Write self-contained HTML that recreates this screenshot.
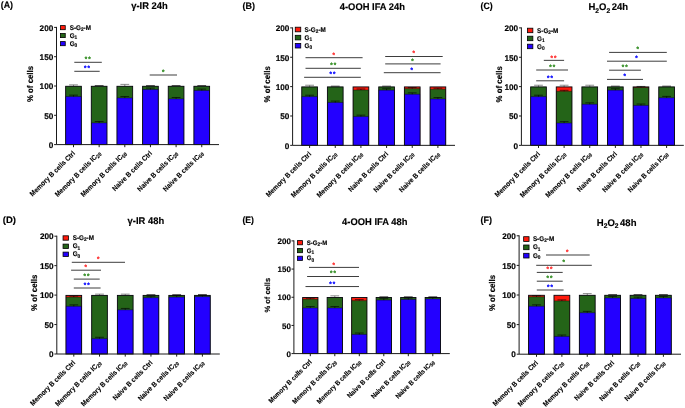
<!DOCTYPE html>
<html lang="en">
<head>
<meta charset="utf-8">
<title>Cell cycle distribution of memory and naive B cells</title>
<style>
html,body{margin:0;padding:0;background:#fff;}
body{width:685px;height:408px;overflow:hidden;}
svg{display:block;}
text{text-rendering:geometricPrecision;font-family:"Liberation Sans",sans-serif;font-weight:bold;fill:#000;stroke:#000;stroke-width:0.15px;stroke-linejoin:round;}
.pl{font-size:9.3px;}
.tt{font-size:9.7px;}
.sub{font-size:6.8px;}
.yl{font-size:8.35px;}
.tk{font-size:8.23px;}
.xl{font-size:7.09px;stroke-width:0.12px;}
.xs{font-size:5.3px;}
.lt{font-size:6.87px;stroke-width:0.15px;}
.ls{font-size:5.2px;}
.st{font-size:6.2px;stroke-width:0.3px;}
#pE .yl{font-size:7.57px;}
#pE .tk{font-size:7.98px;}
#pE .xl{font-size:6.77px;}
#pE .lt{font-size:6.56px;}
.b{stroke:none;}
.u{fill:#2300ff;}
.g{fill:#246418;}
.r{fill:#ff1a0c;}
.bo{fill:none;stroke:#05050c;stroke-width:0.9;}
.ax{fill:none;stroke:#1a1a1a;stroke-width:1;}
.sg{fill:none;stroke:#000;stroke-width:0.5;opacity:.75;}
.eb{fill:none;stroke:#666;stroke-width:0.75;}
.et{fill:none;stroke:#000;stroke-width:0.8;opacity:.85;}
.ei{fill:none;stroke:#000;stroke-width:0.75;opacity:.85;}
.lg{stroke:#000;stroke-width:0.8;}
.sl{fill:none;stroke:#333;stroke-width:0.95;}
</style>
</head>
<body>
<svg width="685" height="408" viewBox="0 0 685 408">
<rect x="0" y="0" width="685" height="408" fill="#ffffff"/>
<g id="pA">
<text class="pl" x="0.7" y="8.4" textLength="12.3" lengthAdjust="spacingAndGlyphs">(A)</text>
<text class="tt" x="131.2" y="9.4" textLength="36.5" lengthAdjust="spacingAndGlyphs">γ-IR 24h</text>
<text class="yl" transform="translate(32.7 84) rotate(-90)" text-anchor="middle" textLength="36.2" lengthAdjust="spacingAndGlyphs">% of cells</text>
<path class="eb" d="M73.5 86.29V84.89M69.1 84.89H77.9"/>
<rect class="b g" x="65.65" y="86.23" width="15.7" height="58.37"/>
<rect class="b u" x="65.65" y="96.55" width="15.7" height="48.05"/>
<path class="sg" d="M65.65 96.55H81.35"/>
<rect class="bo" x="65.65" y="86.29" width="15.7" height="58.31"/>
<path class="ei" d="M69.1 95.15H77.9M73.5 95.15V96.55"/>
<rect class="b g" x="91.3" y="86.23" width="15.7" height="58.37"/>
<rect class="b u" x="91.3" y="122.92" width="15.7" height="21.68"/>
<path class="sg" d="M91.3 122.92H107"/>
<rect class="bo" x="91.3" y="86.29" width="15.7" height="58.31"/>
<path class="ei" d="M94.75 121.52H103.55M99.15 121.52V122.92"/>
<path class="et" d="M94.75 85.54H103.55"/>
<path class="eb" d="M124.8 86.29V84.39M120.4 84.39H129.2"/>
<rect class="b g" x="116.95" y="86.23" width="15.7" height="58.37"/>
<rect class="b u" x="116.95" y="97.95" width="15.7" height="46.65"/>
<path class="sg" d="M116.95 97.95H132.65"/>
<rect class="bo" x="116.95" y="86.29" width="15.7" height="58.31"/>
<path class="ei" d="M120.4 96.55H129.2M124.8 96.55V97.95"/>
<rect class="b g" x="142.6" y="86.23" width="15.7" height="58.37"/>
<rect class="b u" x="142.6" y="89.52" width="15.7" height="55.08"/>
<path class="sg" d="M142.6 89.52H158.3"/>
<rect class="bo" x="142.6" y="86.29" width="15.7" height="58.31"/>
<path class="ei" d="M146.05 88.12H154.85M150.45 88.12V89.52"/>
<path class="et" d="M146.05 85.54H154.85"/>
<rect class="b g" x="168.25" y="86.23" width="15.7" height="58.37"/>
<rect class="b u" x="168.25" y="98.89" width="15.7" height="45.71"/>
<path class="sg" d="M168.25 98.89H183.95"/>
<rect class="bo" x="168.25" y="86.29" width="15.7" height="58.31"/>
<path class="ei" d="M171.7 97.49H180.5M176.1 97.49V98.89"/>
<path class="et" d="M171.7 85.54H180.5"/>
<rect class="b g" x="193.9" y="86.23" width="15.7" height="58.37"/>
<rect class="b u" x="193.9" y="90.51" width="15.7" height="54.09"/>
<path class="sg" d="M193.9 90.51H209.6"/>
<rect class="bo" x="193.9" y="86.29" width="15.7" height="58.31"/>
<path class="ei" d="M197.35 89.11H206.15M201.75 89.11V90.51"/>
<path class="et" d="M197.35 85.54H206.15"/>
<path class="ax" d="M56.5 26.9V144.6H219"/>
<path class="ax" d="M54.1 144.6H56.5"/>
<text class="tk" transform="translate(53.3 147.85)" text-anchor="end">0</text>
<path class="ax" d="M54.1 115.3H56.5"/>
<text class="tk" transform="translate(53.3 118.55)" text-anchor="end">50</text>
<path class="ax" d="M54.1 86H56.5"/>
<text class="tk" transform="translate(53.3 89.25)" text-anchor="end">100</text>
<path class="ax" d="M54.1 56.7H56.5"/>
<text class="tk" transform="translate(53.3 59.95)" text-anchor="end">150</text>
<path class="ax" d="M54.1 27.4H56.5"/>
<text class="tk" transform="translate(53.3 30.65)" text-anchor="end">200</text>
<path class="ax" d="M73.5 144.6V147.2"/>
<text class="xl" transform="translate(75.6 153.8) rotate(-45) scale(0.92 1)" text-anchor="end">Memory B cells Ctrl</text>
<path class="ax" d="M99.15 144.6V147.2"/>
<text class="xl" transform="translate(101.25 153.8) rotate(-45) scale(0.92 1)" text-anchor="end">Memory B cells IC<tspan class="xs" dy="1.2">20</tspan></text>
<path class="ax" d="M124.8 144.6V147.2"/>
<text class="xl" transform="translate(126.9 153.8) rotate(-45) scale(0.92 1)" text-anchor="end">Memory B cells IC<tspan class="xs" dy="1.2">50</tspan></text>
<path class="ax" d="M150.45 144.6V147.2"/>
<text class="xl" transform="translate(152.55 153.8) rotate(-45) scale(0.92 1)" text-anchor="end">Naive B cells Ctrl</text>
<path class="ax" d="M176.1 144.6V147.2"/>
<text class="xl" transform="translate(178.2 153.8) rotate(-45) scale(0.92 1)" text-anchor="end">Naive B cells IC<tspan class="xs" dy="1.2">20</tspan></text>
<path class="ax" d="M201.75 144.6V147.2"/>
<text class="xl" transform="translate(203.85 153.8) rotate(-45) scale(0.92 1)" text-anchor="end">Naive B cells IC<tspan class="xs" dy="1.2">50</tspan></text>
<rect class="lg" x="60.45" y="25.6" width="4.8" height="4.1" fill="#ff1a0c"/>
<text class="lt" transform="translate(69.7 29.75) scale(0.92 1)">S-G<tspan class="ls" dy="1.3">2</tspan><tspan dy="-1.3">-M</tspan></text>
<rect class="lg" x="60.45" y="33.5" width="4.8" height="4.1" fill="#246418"/>
<text class="lt" transform="translate(69.7 37.65) scale(0.92 1)">G<tspan class="ls" dy="1.3">1</tspan></text>
<rect class="lg" x="60.45" y="41.6" width="4.8" height="4.1" fill="#2300ff"/>
<text class="lt" transform="translate(69.7 45.75) scale(0.92 1)">G<tspan class="ls" dy="1.3">0</tspan></text>
<path class="sl" d="M74.3 62.3H101.8"/>
<text class="st" x="86.05 89.55" y="61.25" text-anchor="middle" style="fill:#2e8b1e;stroke:#2e8b1e">**</text>
<path class="sl" d="M74.3 71.3H99.7"/>
<text class="st" x="85.25 88.75" y="70.25" text-anchor="middle" style="fill:#0000ff;stroke:#0000ff">**</text>
<path class="sl" d="M149.7 75H177"/>
<text class="st" x="163.1" y="74.05" text-anchor="middle" style="fill:#2e8b1e;stroke:#2e8b1e">*</text>
</g>
<g id="pB">
<text class="pl" x="242.5" y="8.7" textLength="12.5" lengthAdjust="spacingAndGlyphs">(B)</text>
<text class="tt" x="339.8" y="9.6" textLength="65.2" lengthAdjust="spacingAndGlyphs">4-OOH IFA 24h</text>
<text class="yl" transform="translate(270.1 84.3) rotate(-90)" text-anchor="middle" textLength="36.2" lengthAdjust="spacingAndGlyphs">% of cells</text>
<path class="eb" d="M309.6 86.92V85.22M305.2 85.22H314"/>
<rect class="b g" x="301.75" y="86.86" width="15.7" height="58.49"/>
<rect class="b u" x="301.75" y="96.61" width="15.7" height="48.74"/>
<path class="sg" d="M301.75 96.61H317.45"/>
<rect class="bo" x="301.75" y="86.92" width="15.7" height="58.43"/>
<path class="ei" d="M305.2 95.21H314M309.6 95.21V96.61"/>
<rect class="b g" x="327.41" y="86.86" width="15.7" height="58.49"/>
<rect class="b u" x="327.41" y="102.48" width="15.7" height="42.87"/>
<path class="sg" d="M327.41 102.48H343.11"/>
<rect class="bo" x="327.41" y="86.92" width="15.7" height="58.43"/>
<path class="ei" d="M330.86 101.08H339.66M335.26 101.08V102.48"/>
<path class="et" d="M330.86 86.17H339.66"/>
<rect class="b r" x="353.07" y="86.92" width="15.7" height="58.43"/>
<rect class="b g" x="353.07" y="90.03" width="15.7" height="55.32"/>
<rect class="b u" x="353.07" y="116.57" width="15.7" height="28.78"/>
<path class="sg" d="M353.07 116.57H368.77"/>
<path class="sg" d="M353.07 90.03H368.77"/>
<rect class="bo" x="353.07" y="86.92" width="15.7" height="58.43"/>
<path class="ei" d="M356.52 115.17H365.32M360.92 115.17V116.57"/>
<path class="ei" d="M356.52 89.03H365.32M360.92 89.03V90.03"/>
<rect class="b g" x="378.73" y="86.86" width="15.7" height="58.49"/>
<rect class="b u" x="378.73" y="90.15" width="15.7" height="55.2"/>
<path class="sg" d="M378.73 90.15H394.43"/>
<rect class="bo" x="378.73" y="86.92" width="15.7" height="58.43"/>
<path class="ei" d="M382.18 88.75H390.98M386.58 88.75V90.15"/>
<path class="et" d="M382.18 86.17H390.98"/>
<rect class="b r" x="404.39" y="86.92" width="15.7" height="58.43"/>
<rect class="b g" x="404.39" y="88.62" width="15.7" height="56.73"/>
<rect class="b u" x="404.39" y="94.26" width="15.7" height="51.09"/>
<path class="sg" d="M404.39 94.26H420.09"/>
<path class="sg" d="M404.39 88.62H420.09"/>
<rect class="bo" x="404.39" y="86.92" width="15.7" height="58.43"/>
<path class="ei" d="M407.84 92.86H416.64M412.24 92.86V94.26"/>
<path class="ei" d="M407.84 87.62H416.64M412.24 87.62V88.62"/>
<rect class="b r" x="430.05" y="86.92" width="15.7" height="58.43"/>
<rect class="b g" x="430.05" y="89.21" width="15.7" height="56.14"/>
<rect class="b u" x="430.05" y="98.96" width="15.7" height="46.39"/>
<path class="sg" d="M430.05 98.96H445.75"/>
<path class="sg" d="M430.05 89.21H445.75"/>
<rect class="bo" x="430.05" y="86.92" width="15.7" height="58.43"/>
<path class="ei" d="M433.5 97.56H442.3M437.9 97.56V98.96"/>
<path class="ei" d="M433.5 88.21H442.3M437.9 88.21V89.21"/>
<path class="ax" d="M292.6 27.4V145.35H455"/>
<path class="ax" d="M290.2 145.35H292.6"/>
<text class="tk" transform="translate(289.4 148.6)" text-anchor="end">0</text>
<path class="ax" d="M290.2 115.99H292.6"/>
<text class="tk" transform="translate(289.4 119.24)" text-anchor="end">50</text>
<path class="ax" d="M290.2 86.62H292.6"/>
<text class="tk" transform="translate(289.4 89.88)" text-anchor="end">100</text>
<path class="ax" d="M290.2 57.26H292.6"/>
<text class="tk" transform="translate(289.4 60.51)" text-anchor="end">150</text>
<path class="ax" d="M290.2 27.9H292.6"/>
<text class="tk" transform="translate(289.4 31.15)" text-anchor="end">200</text>
<path class="ax" d="M309.6 145.35V147.95"/>
<text class="xl" transform="translate(311.7 154.55) rotate(-45) scale(0.92 1)" text-anchor="end">Memory B cells Ctrl</text>
<path class="ax" d="M335.26 145.35V147.95"/>
<text class="xl" transform="translate(337.36 154.55) rotate(-45) scale(0.92 1)" text-anchor="end">Memory B cells IC<tspan class="xs" dy="1.2">20</tspan></text>
<path class="ax" d="M360.92 145.35V147.95"/>
<text class="xl" transform="translate(363.02 154.55) rotate(-45) scale(0.92 1)" text-anchor="end">Memory B cells IC<tspan class="xs" dy="1.2">50</tspan></text>
<path class="ax" d="M386.58 145.35V147.95"/>
<text class="xl" transform="translate(388.68 154.55) rotate(-45) scale(0.92 1)" text-anchor="end">Naive B cells Ctrl</text>
<path class="ax" d="M412.24 145.35V147.95"/>
<text class="xl" transform="translate(414.34 154.55) rotate(-45) scale(0.92 1)" text-anchor="end">Naive B cells IC<tspan class="xs" dy="1.2">20</tspan></text>
<path class="ax" d="M437.9 145.35V147.95"/>
<text class="xl" transform="translate(440 154.55) rotate(-45) scale(0.92 1)" text-anchor="end">Naive B cells IC<tspan class="xs" dy="1.2">50</tspan></text>
<rect class="lg" x="295.25" y="27.2" width="5.5" height="4.6" fill="#ff1a0c"/>
<text class="lt" transform="translate(304.5 31.6) scale(0.92 1)">S-G<tspan class="ls" dy="1.3">2</tspan><tspan dy="-1.3">-M</tspan></text>
<rect class="lg" x="295.25" y="35.3" width="5.5" height="4.6" fill="#246418"/>
<text class="lt" transform="translate(304.5 39.7) scale(0.92 1)">G<tspan class="ls" dy="1.3">1</tspan></text>
<rect class="lg" x="295.25" y="43.4" width="5.5" height="4.6" fill="#2300ff"/>
<text class="lt" transform="translate(304.5 47.8) scale(0.92 1)">G<tspan class="ls" dy="1.3">0</tspan></text>
<path class="sl" d="M305.5 57.7H362.6"/>
<text class="st" x="333.8" y="56.55" text-anchor="middle" style="fill:#ff2a2a;stroke:#ff2a2a">*</text>
<path class="sl" d="M305.5 68.3H360.8"/>
<text class="st" x="331.45 334.95" y="66.95" text-anchor="middle" style="fill:#2e8b1e;stroke:#2e8b1e">**</text>
<path class="sl" d="M304.1 77.3H360.8"/>
<text class="st" x="330.75 334.25" y="75.95" text-anchor="middle" style="fill:#0000ff;stroke:#0000ff">**</text>
<path class="sl" d="M385.2 56.5H442.7"/>
<text class="st" x="413.6" y="55.45" text-anchor="middle" style="fill:#ff2a2a;stroke:#ff2a2a">*</text>
<path class="sl" d="M385.2 63.9H440.6"/>
<text class="st" x="412.5" y="62.85" text-anchor="middle" style="fill:#2e8b1e;stroke:#2e8b1e">*</text>
<path class="sl" d="M383.8 72.7H440.6"/>
<text class="st" x="411.8" y="71.55" text-anchor="middle" style="fill:#0000ff;stroke:#0000ff">*</text>
</g>
<g id="pC">
<text class="pl" x="480.6" y="8.7" textLength="12.2" lengthAdjust="spacingAndGlyphs">(C)</text>
<text class="tt" x="588.5" y="10.4" textLength="39.5" lengthAdjust="spacingAndGlyphs">H<tspan class="sub" dy="2.1">2</tspan><tspan dy="-2.1">O</tspan><tspan class="sub" dy="2.1">2</tspan><tspan dy="-2.1" style="word-spacing:-1.2px"> 24h</tspan></text>
<text class="yl" transform="translate(501.9 84.3) rotate(-90)" text-anchor="middle" textLength="36.2" lengthAdjust="spacingAndGlyphs">% of cells</text>
<path class="eb" d="M538.5 86.92V85.22M534.1 85.22H542.9"/>
<rect class="b g" x="530.65" y="86.86" width="15.7" height="58.49"/>
<rect class="b u" x="530.65" y="96.61" width="15.7" height="48.74"/>
<path class="sg" d="M530.65 96.61H546.35"/>
<rect class="bo" x="530.65" y="86.92" width="15.7" height="58.43"/>
<path class="ei" d="M534.1 95.21H542.9M538.5 95.21V96.61"/>
<path class="eb" d="M564.12 86.92V85.22M559.72 85.22H568.52"/>
<rect class="b r" x="556.27" y="86.92" width="15.7" height="58.43"/>
<rect class="b g" x="556.27" y="91.32" width="15.7" height="54.03"/>
<rect class="b u" x="556.27" y="123.03" width="15.7" height="22.32"/>
<path class="sg" d="M556.27 123.03H571.97"/>
<path class="sg" d="M556.27 91.32H571.97"/>
<rect class="bo" x="556.27" y="86.92" width="15.7" height="58.43"/>
<path class="ei" d="M559.72 121.63H568.52M564.12 121.63V123.03"/>
<path class="ei" d="M559.72 90.32H568.52M564.12 90.32V91.32"/>
<path class="eb" d="M589.74 86.92V85.22M585.34 85.22H594.14"/>
<rect class="b g" x="581.89" y="86.86" width="15.7" height="58.49"/>
<rect class="b u" x="581.89" y="104.24" width="15.7" height="41.11"/>
<path class="sg" d="M581.89 104.24H597.59"/>
<rect class="bo" x="581.89" y="86.92" width="15.7" height="58.43"/>
<path class="ei" d="M585.34 102.84H594.14M589.74 102.84V104.24"/>
<rect class="b g" x="607.51" y="86.86" width="15.7" height="58.49"/>
<rect class="b u" x="607.51" y="90.15" width="15.7" height="55.2"/>
<path class="sg" d="M607.51 90.15H623.21"/>
<rect class="bo" x="607.51" y="86.92" width="15.7" height="58.43"/>
<path class="ei" d="M610.96 88.75H619.76M615.36 88.75V90.15"/>
<path class="et" d="M610.96 86.17H619.76"/>
<rect class="b r" x="633.13" y="86.92" width="15.7" height="58.43"/>
<rect class="b g" x="633.13" y="87.45" width="15.7" height="57.9"/>
<rect class="b u" x="633.13" y="105.42" width="15.7" height="39.93"/>
<path class="sg" d="M633.13 105.42H648.83"/>
<path class="sg" d="M633.13 87.45H648.83"/>
<rect class="bo" x="633.13" y="86.92" width="15.7" height="58.43"/>
<path class="ei" d="M636.58 104.02H645.38M640.98 104.02V105.42"/>
<path class="ei" d="M636.58 86.45H645.38M640.98 86.45V87.45"/>
<rect class="b g" x="658.75" y="86.86" width="15.7" height="58.49"/>
<rect class="b u" x="658.75" y="97.78" width="15.7" height="47.57"/>
<path class="sg" d="M658.75 97.78H674.45"/>
<rect class="bo" x="658.75" y="86.92" width="15.7" height="58.43"/>
<path class="ei" d="M662.2 96.38H671M666.6 96.38V97.78"/>
<path class="et" d="M662.2 86.17H671"/>
<path class="ax" d="M521.4 27.4V145.35H683.8"/>
<path class="ax" d="M519 145.35H521.4"/>
<text class="tk" transform="translate(518.2 148.6)" text-anchor="end">0</text>
<path class="ax" d="M519 115.99H521.4"/>
<text class="tk" transform="translate(518.2 119.24)" text-anchor="end">50</text>
<path class="ax" d="M519 86.62H521.4"/>
<text class="tk" transform="translate(518.2 89.88)" text-anchor="end">100</text>
<path class="ax" d="M519 57.26H521.4"/>
<text class="tk" transform="translate(518.2 60.51)" text-anchor="end">150</text>
<path class="ax" d="M519 27.9H521.4"/>
<text class="tk" transform="translate(518.2 31.15)" text-anchor="end">200</text>
<path class="ax" d="M538.5 145.35V147.95"/>
<text class="xl" transform="translate(540.6 154.55) rotate(-45) scale(0.92 1)" text-anchor="end">Memory B cells Ctrl</text>
<path class="ax" d="M564.12 145.35V147.95"/>
<text class="xl" transform="translate(566.22 154.55) rotate(-45) scale(0.92 1)" text-anchor="end">Memory B cells IC<tspan class="xs" dy="1.2">20</tspan></text>
<path class="ax" d="M589.74 145.35V147.95"/>
<text class="xl" transform="translate(591.84 154.55) rotate(-45) scale(0.92 1)" text-anchor="end">Memory B cells IC<tspan class="xs" dy="1.2">50</tspan></text>
<path class="ax" d="M615.36 145.35V147.95"/>
<text class="xl" transform="translate(617.46 154.55) rotate(-45) scale(0.92 1)" text-anchor="end">Naive B cells Ctrl</text>
<path class="ax" d="M640.98 145.35V147.95"/>
<text class="xl" transform="translate(643.08 154.55) rotate(-45) scale(0.92 1)" text-anchor="end">Naive B cells IC<tspan class="xs" dy="1.2">20</tspan></text>
<path class="ax" d="M666.6 145.35V147.95"/>
<text class="xl" transform="translate(668.7 154.55) rotate(-45) scale(0.92 1)" text-anchor="end">Naive B cells IC<tspan class="xs" dy="1.2">50</tspan></text>
<rect class="lg" x="527.45" y="28.2" width="5.4" height="4.5" fill="#ff1a0c"/>
<text class="lt" transform="translate(537.1 32.55) scale(0.92 1)">S-G<tspan class="ls" dy="1.3">2</tspan><tspan dy="-1.3">-M</tspan></text>
<rect class="lg" x="527.45" y="36.2" width="5.4" height="4.5" fill="#246418"/>
<text class="lt" transform="translate(537.1 40.55) scale(0.92 1)">G<tspan class="ls" dy="1.3">1</tspan></text>
<rect class="lg" x="527.45" y="44.2" width="5.4" height="4.5" fill="#2300ff"/>
<text class="lt" transform="translate(537.1 48.55) scale(0.92 1)">G<tspan class="ls" dy="1.3">0</tspan></text>
<path class="sl" d="M543.8 60.35H564.1"/>
<text class="st" x="551.75 555.25" y="59.55" text-anchor="middle" style="fill:#ff2a2a;stroke:#ff2a2a">**</text>
<path class="sl" d="M536.2 70H568"/>
<text class="st" x="550.35 553.85" y="68.85" text-anchor="middle" style="fill:#2e8b1e;stroke:#2e8b1e">**</text>
<path class="sl" d="M536.2 80.8H564.1"/>
<text class="st" x="548.25 551.75" y="79.85" text-anchor="middle" style="fill:#0000ff;stroke:#0000ff">**</text>
<path class="sl" d="M609.1 52.4H666.8"/>
<text class="st" x="637.7" y="51.45" text-anchor="middle" style="fill:#2e8b1e;stroke:#2e8b1e">*</text>
<path class="sl" d="M607 61.2H666.8"/>
<text class="st" x="636.5" y="59.85" text-anchor="middle" style="fill:#0000ff;stroke:#0000ff">*</text>
<path class="sl" d="M609.1 70.2H640.9"/>
<text class="st" x="622.85 626.35" y="69.35" text-anchor="middle" style="fill:#2e8b1e;stroke:#2e8b1e">**</text>
<path class="sl" d="M607 79.4H643"/>
<text class="st" x="624.6" y="78.4" text-anchor="middle" style="fill:#0000ff;stroke:#0000ff">*</text>
</g>
<g id="pD">
<text class="pl" x="2.8" y="222.5" textLength="13.2" lengthAdjust="spacingAndGlyphs">(D)</text>
<text class="tt" x="127.6" y="224.3" textLength="36.6" lengthAdjust="spacingAndGlyphs">γ-IR 48h</text>
<text class="yl" transform="translate(36.7 292.8) rotate(-90)" text-anchor="middle" textLength="36.2" lengthAdjust="spacingAndGlyphs">% of cells</text>
<rect class="b r" x="65.95" y="295.39" width="15.7" height="58.61"/>
<rect class="b g" x="65.95" y="297.1" width="15.7" height="56.9"/>
<rect class="b u" x="65.95" y="306.29" width="15.7" height="47.71"/>
<path class="sg" d="M65.95 306.29H81.65"/>
<path class="sg" d="M65.95 297.1H81.65"/>
<rect class="bo" x="65.95" y="295.39" width="15.7" height="58.61"/>
<path class="ei" d="M69.4 304.89H78.2M73.8 304.89V306.29"/>
<path class="ei" d="M69.4 296.1H78.2M73.8 296.1V297.1"/>
<path class="eb" d="M99.52 295.39V294.14M95.12 294.14H103.92"/>
<rect class="b g" x="91.67" y="295.34" width="15.7" height="58.66"/>
<rect class="b u" x="91.67" y="338.69" width="15.7" height="15.31"/>
<path class="sg" d="M91.67 338.69H107.37"/>
<rect class="bo" x="91.67" y="295.39" width="15.7" height="58.61"/>
<path class="ei" d="M95.12 337.29H103.92M99.52 337.29V338.69"/>
<path class="eb" d="M125.24 295.39V294.14M120.84 294.14H129.64"/>
<rect class="b g" x="117.39" y="295.34" width="15.7" height="58.66"/>
<rect class="b u" x="117.39" y="309.82" width="15.7" height="44.18"/>
<path class="sg" d="M117.39 309.82H133.09"/>
<rect class="bo" x="117.39" y="295.39" width="15.7" height="58.61"/>
<path class="ei" d="M120.84 308.43H129.64M125.24 308.43V309.82"/>
<rect class="b g" x="143.11" y="295.34" width="15.7" height="58.66"/>
<rect class="b u" x="143.11" y="297.69" width="15.7" height="56.31"/>
<path class="sg" d="M143.11 297.69H158.81"/>
<rect class="bo" x="143.11" y="295.39" width="15.7" height="58.61"/>
<path class="ei" d="M146.56 296.29H155.36M150.96 296.29V297.69"/>
<path class="et" d="M146.56 294.64H155.36"/>
<rect class="b g" x="168.83" y="295.34" width="15.7" height="58.66"/>
<rect class="b u" x="168.83" y="297.1" width="15.7" height="56.9"/>
<path class="sg" d="M168.83 297.1H184.53"/>
<rect class="bo" x="168.83" y="295.39" width="15.7" height="58.61"/>
<path class="ei" d="M172.28 295.7H181.08M176.68 295.7V297.1"/>
<path class="et" d="M172.28 294.64H181.08"/>
<rect class="b g" x="194.55" y="295.34" width="15.7" height="58.66"/>
<rect class="b u" x="194.55" y="296.63" width="15.7" height="57.37"/>
<path class="sg" d="M194.55 296.63H210.25"/>
<rect class="bo" x="194.55" y="295.39" width="15.7" height="58.61"/>
<path class="ei" d="M198 295.23H206.8M202.4 295.23V296.63"/>
<path class="et" d="M198 294.64H206.8"/>
<path class="ax" d="M56.8 235.7V354H219.8"/>
<path class="ax" d="M54.4 354H56.8"/>
<text class="tk" transform="translate(53.6 357.25)" text-anchor="end">0</text>
<path class="ax" d="M54.4 324.55H56.8"/>
<text class="tk" transform="translate(53.6 327.8)" text-anchor="end">50</text>
<path class="ax" d="M54.4 295.1H56.8"/>
<text class="tk" transform="translate(53.6 298.35)" text-anchor="end">100</text>
<path class="ax" d="M54.4 265.65H56.8"/>
<text class="tk" transform="translate(53.6 268.9)" text-anchor="end">150</text>
<path class="ax" d="M54.4 236.2H56.8"/>
<text class="tk" transform="translate(53.6 239.45)" text-anchor="end">200</text>
<path class="ax" d="M73.8 354V356.6"/>
<text class="xl" transform="translate(75.9 363.2) rotate(-45) scale(0.92 1)" text-anchor="end">Memory B cells Ctrl</text>
<path class="ax" d="M99.52 354V356.6"/>
<text class="xl" transform="translate(101.62 363.2) rotate(-45) scale(0.92 1)" text-anchor="end">Memory B cells IC<tspan class="xs" dy="1.2">20</tspan></text>
<path class="ax" d="M125.24 354V356.6"/>
<text class="xl" transform="translate(127.34 363.2) rotate(-45) scale(0.92 1)" text-anchor="end">Memory B cells IC<tspan class="xs" dy="1.2">50</tspan></text>
<path class="ax" d="M150.96 354V356.6"/>
<text class="xl" transform="translate(153.06 363.2) rotate(-45) scale(0.92 1)" text-anchor="end">Naive B cells Ctrl</text>
<path class="ax" d="M176.68 354V356.6"/>
<text class="xl" transform="translate(178.78 363.2) rotate(-45) scale(0.92 1)" text-anchor="end">Naive B cells IC<tspan class="xs" dy="1.2">20</tspan></text>
<path class="ax" d="M202.4 354V356.6"/>
<text class="xl" transform="translate(204.5 363.2) rotate(-45) scale(0.92 1)" text-anchor="end">Naive B cells IC<tspan class="xs" dy="1.2">50</tspan></text>
<rect class="lg" x="63.05" y="235.8" width="5.4" height="4.4" fill="#ff1a0c"/>
<text class="lt" transform="translate(72.7 240.1) scale(0.92 1)">S-G<tspan class="ls" dy="1.3">2</tspan><tspan dy="-1.3">-M</tspan></text>
<rect class="lg" x="63.05" y="244.1" width="5.4" height="4.4" fill="#246418"/>
<text class="lt" transform="translate(72.7 248.4) scale(0.92 1)">G<tspan class="ls" dy="1.3">1</tspan></text>
<rect class="lg" x="63.05" y="252.1" width="5.4" height="4.4" fill="#2300ff"/>
<text class="lt" transform="translate(72.7 256.4) scale(0.92 1)">G<tspan class="ls" dy="1.3">0</tspan></text>
<path class="sl" d="M71.8 262.3H125"/>
<text class="st" x="98.3" y="260.95" text-anchor="middle" style="fill:#ff2a2a;stroke:#ff2a2a">*</text>
<path class="sl" d="M71.1 270.2H101"/>
<text class="st" x="85.6" y="268.85" text-anchor="middle" style="fill:#ff2a2a;stroke:#ff2a2a">*</text>
<path class="sl" d="M73.8 279.1H99.7"/>
<text class="st" x="84.75 88.25" y="278.05" text-anchor="middle" style="fill:#2e8b1e;stroke:#2e8b1e">**</text>
<path class="sl" d="M73.8 288H100.6"/>
<text class="st" x="85.05 88.55" y="286.75" text-anchor="middle" style="fill:#0000ff;stroke:#0000ff">**</text>
</g>
<g id="pE">
<text class="pl" x="242.5" y="222.5" textLength="11.5" lengthAdjust="spacingAndGlyphs">(E)</text>
<text class="tt" x="342.1" y="224.9" textLength="65.3" lengthAdjust="spacingAndGlyphs">4-OOH IFA 48h</text>
<text class="yl" transform="translate(269.98 295.2) rotate(-90)" text-anchor="middle" textLength="34.61" lengthAdjust="spacingAndGlyphs">% of cells</text>
<rect class="b r" x="302.65" y="297.53" width="15.3" height="56.07"/>
<rect class="b g" x="302.65" y="299.17" width="15.3" height="54.43"/>
<rect class="b u" x="302.65" y="307.96" width="15.3" height="45.64"/>
<path class="sg" d="M302.65 307.96H317.95"/>
<path class="sg" d="M302.65 299.17H317.95"/>
<rect class="bo" x="302.65" y="297.53" width="15.3" height="56.07"/>
<path class="ei" d="M305.9 306.56H314.7M310.3 306.56V307.96"/>
<path class="ei" d="M305.9 298.17H314.7M310.3 298.17V299.17"/>
<path class="eb" d="M334.8 297.53V295.83M330.4 295.83H339.2"/>
<rect class="b g" x="327.15" y="297.48" width="15.3" height="56.12"/>
<rect class="b u" x="327.15" y="307.96" width="15.3" height="45.64"/>
<path class="sg" d="M327.15 307.96H342.45"/>
<rect class="bo" x="327.15" y="297.53" width="15.3" height="56.07"/>
<path class="ei" d="M330.4 306.56H339.2M334.8 306.56V307.96"/>
<rect class="b r" x="351.65" y="297.53" width="15.3" height="56.07"/>
<rect class="b g" x="351.65" y="300.63" width="15.3" height="52.97"/>
<rect class="b u" x="351.65" y="334.44" width="15.3" height="19.16"/>
<path class="sg" d="M351.65 334.44H366.95"/>
<path class="sg" d="M351.65 300.63H366.95"/>
<rect class="bo" x="351.65" y="297.53" width="15.3" height="56.07"/>
<path class="ei" d="M354.9 333.04H363.7M359.3 333.04V334.44"/>
<path class="ei" d="M354.9 299.63H363.7M359.3 299.63V300.63"/>
<rect class="b g" x="376.15" y="297.48" width="15.3" height="56.12"/>
<rect class="b u" x="376.15" y="300.07" width="15.3" height="53.53"/>
<path class="sg" d="M376.15 300.07H391.45"/>
<rect class="bo" x="376.15" y="297.53" width="15.3" height="56.07"/>
<path class="ei" d="M379.4 298.67H388.2M383.8 298.67V300.07"/>
<path class="et" d="M379.4 296.78H388.2"/>
<rect class="b g" x="400.65" y="297.48" width="15.3" height="56.12"/>
<rect class="b u" x="400.65" y="299.5" width="15.3" height="54.1"/>
<path class="sg" d="M400.65 299.5H415.95"/>
<rect class="bo" x="400.65" y="297.53" width="15.3" height="56.07"/>
<path class="ei" d="M403.9 298.1H412.7M408.3 298.1V299.5"/>
<path class="et" d="M403.9 296.78H412.7"/>
<rect class="b g" x="425.15" y="297.48" width="15.3" height="56.12"/>
<rect class="b u" x="425.15" y="298.94" width="15.3" height="54.66"/>
<path class="sg" d="M425.15 298.94H440.45"/>
<rect class="bo" x="425.15" y="297.53" width="15.3" height="56.07"/>
<path class="ei" d="M428.4 297.54H437.2M432.8 297.54V298.94"/>
<path class="et" d="M428.4 296.78H437.2"/>
<path class="ax" d="M293.9 240.4V353.6H449.8"/>
<path class="ax" d="M291.5 353.6H293.9"/>
<text class="tk" transform="translate(290.84 356.71)" text-anchor="end">0</text>
<path class="ax" d="M291.5 325.43H293.9"/>
<text class="tk" transform="translate(290.84 328.53)" text-anchor="end">50</text>
<path class="ax" d="M291.5 297.25H293.9"/>
<text class="tk" transform="translate(290.84 300.36)" text-anchor="end">100</text>
<path class="ax" d="M291.5 269.07H293.9"/>
<text class="tk" transform="translate(290.84 272.18)" text-anchor="end">150</text>
<path class="ax" d="M291.5 240.9H293.9"/>
<text class="tk" transform="translate(290.84 244.01)" text-anchor="end">200</text>
<path class="ax" d="M310.3 353.6V356.2"/>
<text class="xl" transform="translate(312.31 362.4) rotate(-45) scale(0.92 1)" text-anchor="end">Memory B cells Ctrl</text>
<path class="ax" d="M334.8 353.6V356.2"/>
<text class="xl" transform="translate(336.81 362.4) rotate(-45) scale(0.92 1)" text-anchor="end">Memory B cells IC<tspan class="xs" dy="1.2">20</tspan></text>
<path class="ax" d="M359.3 353.6V356.2"/>
<text class="xl" transform="translate(361.31 362.4) rotate(-45) scale(0.92 1)" text-anchor="end">Memory B cells IC<tspan class="xs" dy="1.2">50</tspan></text>
<path class="ax" d="M383.8 353.6V356.2"/>
<text class="xl" transform="translate(385.81 362.4) rotate(-45) scale(0.92 1)" text-anchor="end">Naive B cells Ctrl</text>
<path class="ax" d="M408.3 353.6V356.2"/>
<text class="xl" transform="translate(410.31 362.4) rotate(-45) scale(0.92 1)" text-anchor="end">Naive B cells IC<tspan class="xs" dy="1.2">20</tspan></text>
<path class="ax" d="M432.8 353.6V356.2"/>
<text class="xl" transform="translate(434.81 362.4) rotate(-45) scale(0.92 1)" text-anchor="end">Naive B cells IC<tspan class="xs" dy="1.2">50</tspan></text>
<rect class="lg" x="297.45" y="240.6" width="5.1" height="4.2" fill="#ff1a0c"/>
<text class="lt" transform="translate(306.8 244.8) scale(0.92 1)">S-G<tspan class="ls" dy="1.3">2</tspan><tspan dy="-1.3">-M</tspan></text>
<rect class="lg" x="297.45" y="248.5" width="5.1" height="4.2" fill="#246418"/>
<text class="lt" transform="translate(306.8 252.7) scale(0.92 1)">G<tspan class="ls" dy="1.3">1</tspan></text>
<rect class="lg" x="297.45" y="256.2" width="5.1" height="4.2" fill="#2300ff"/>
<text class="lt" transform="translate(306.8 260.4) scale(0.92 1)">G<tspan class="ls" dy="1.3">0</tspan></text>
<path class="sl" d="M309 267.4H359"/>
<text class="st" x="333.8" y="266.55" text-anchor="middle" style="fill:#ff2a2a;stroke:#ff2a2a">*</text>
<path class="sl" d="M307.1 276.5H359"/>
<text class="st" x="331.15 334.65" y="275.45" text-anchor="middle" style="fill:#2e8b1e;stroke:#2e8b1e">**</text>
<path class="sl" d="M305.5 286.55H359"/>
<text class="st" x="330.55 334.05" y="285.65" text-anchor="middle" style="fill:#0000ff;stroke:#0000ff">**</text>
</g>
<g id="pF">
<text class="pl" x="480.6" y="222.7" textLength="11.5" lengthAdjust="spacingAndGlyphs">(F)</text>
<text class="tt" x="596.8" y="225.7" textLength="39.7" lengthAdjust="spacingAndGlyphs">H<tspan class="sub" dy="2.1">2</tspan><tspan dy="-2.1">O</tspan><tspan class="sub" dy="2.1">2</tspan><tspan dy="-2.1" style="word-spacing:-1.2px"> 48h</tspan></text>
<text class="yl" transform="translate(494.5 293) rotate(-90)" text-anchor="middle" textLength="36.2" lengthAdjust="spacingAndGlyphs">% of cells</text>
<rect class="b r" x="528.6" y="295.3" width="15.8" height="58.9"/>
<rect class="b g" x="528.6" y="296.78" width="15.8" height="57.42"/>
<rect class="b u" x="528.6" y="306.25" width="15.8" height="47.95"/>
<path class="sg" d="M528.6 306.25H544.4"/>
<path class="sg" d="M528.6 296.78H544.4"/>
<rect class="bo" x="528.6" y="295.3" width="15.8" height="58.9"/>
<path class="ei" d="M532.1 304.85H540.9M536.5 304.85V306.25"/>
<path class="ei" d="M532.1 295.78H540.9M536.5 295.78V296.78"/>
<rect class="b r" x="553.98" y="295.3" width="15.8" height="58.9"/>
<rect class="b g" x="553.98" y="300.92" width="15.8" height="53.28"/>
<rect class="b u" x="553.98" y="336.44" width="15.8" height="17.76"/>
<path class="sg" d="M553.98 336.44H569.78"/>
<path class="sg" d="M553.98 300.92H569.78"/>
<rect class="bo" x="553.98" y="295.3" width="15.8" height="58.9"/>
<path class="ei" d="M557.48 335.04H566.28M561.88 335.04V336.44"/>
<path class="ei" d="M557.48 299.92H566.28M561.88 299.92V300.92"/>
<path class="eb" d="M587.26 295.3V293.6M582.86 293.6H591.66"/>
<rect class="b g" x="579.36" y="295.24" width="15.8" height="58.96"/>
<rect class="b u" x="579.36" y="312.76" width="15.8" height="41.44"/>
<path class="sg" d="M579.36 312.76H595.16"/>
<rect class="bo" x="579.36" y="295.3" width="15.8" height="58.9"/>
<path class="ei" d="M582.86 311.36H591.66M587.26 311.36V312.76"/>
<rect class="b g" x="604.74" y="295.24" width="15.8" height="58.96"/>
<rect class="b u" x="604.74" y="297.96" width="15.8" height="56.24"/>
<path class="sg" d="M604.74 297.96H620.54"/>
<rect class="bo" x="604.74" y="295.3" width="15.8" height="58.9"/>
<path class="ei" d="M608.24 296.56H617.04M612.64 296.56V297.96"/>
<path class="et" d="M608.24 294.55H617.04"/>
<rect class="b g" x="630.12" y="295.24" width="15.8" height="58.96"/>
<rect class="b u" x="630.12" y="298.55" width="15.8" height="55.65"/>
<path class="sg" d="M630.12 298.55H645.92"/>
<rect class="bo" x="630.12" y="295.3" width="15.8" height="58.9"/>
<path class="ei" d="M633.62 297.15H642.42M638.02 297.15V298.55"/>
<path class="et" d="M633.62 294.55H642.42"/>
<rect class="b g" x="655.5" y="295.24" width="15.8" height="58.96"/>
<rect class="b u" x="655.5" y="297.96" width="15.8" height="56.24"/>
<path class="sg" d="M655.5 297.96H671.3"/>
<rect class="bo" x="655.5" y="295.3" width="15.8" height="58.9"/>
<path class="ei" d="M659 296.56H667.8M663.4 296.56V297.96"/>
<path class="et" d="M659 294.55H667.8"/>
<path class="ax" d="M519.1 235.3V354.2H681"/>
<path class="ax" d="M516.7 354.2H519.1"/>
<text class="tk" transform="translate(515.9 357.45)" text-anchor="end">0</text>
<path class="ax" d="M516.7 324.6H519.1"/>
<text class="tk" transform="translate(515.9 327.85)" text-anchor="end">50</text>
<path class="ax" d="M516.7 295H519.1"/>
<text class="tk" transform="translate(515.9 298.25)" text-anchor="end">100</text>
<path class="ax" d="M516.7 265.4H519.1"/>
<text class="tk" transform="translate(515.9 268.65)" text-anchor="end">150</text>
<path class="ax" d="M516.7 235.8H519.1"/>
<text class="tk" transform="translate(515.9 239.05)" text-anchor="end">200</text>
<path class="ax" d="M536.5 354.2V356.8"/>
<text class="xl" transform="translate(538.6 363.4) rotate(-45) scale(0.92 1)" text-anchor="end">Memory B cells Ctrl</text>
<path class="ax" d="M561.88 354.2V356.8"/>
<text class="xl" transform="translate(563.98 363.4) rotate(-45) scale(0.92 1)" text-anchor="end">Memory B cells IC<tspan class="xs" dy="1.2">20</tspan></text>
<path class="ax" d="M587.26 354.2V356.8"/>
<text class="xl" transform="translate(589.36 363.4) rotate(-45) scale(0.92 1)" text-anchor="end">Memory B cells IC<tspan class="xs" dy="1.2">50</tspan></text>
<path class="ax" d="M612.64 354.2V356.8"/>
<text class="xl" transform="translate(614.74 363.4) rotate(-45) scale(0.92 1)" text-anchor="end">Naive B cells Ctrl</text>
<path class="ax" d="M638.02 354.2V356.8"/>
<text class="xl" transform="translate(640.12 363.4) rotate(-45) scale(0.92 1)" text-anchor="end">Naive B cells IC<tspan class="xs" dy="1.2">20</tspan></text>
<path class="ax" d="M663.4 354.2V356.8"/>
<text class="xl" transform="translate(665.5 363.4) rotate(-45) scale(0.92 1)" text-anchor="end">Naive B cells IC<tspan class="xs" dy="1.2">50</tspan></text>
<rect class="lg" x="523.65" y="236.7" width="5.4" height="4.7" fill="#ff1a0c"/>
<text class="lt" transform="translate(532.9 241.15) scale(0.92 1)">S-G<tspan class="ls" dy="1.3">2</tspan><tspan dy="-1.3">-M</tspan></text>
<rect class="lg" x="523.65" y="245" width="5.4" height="4.7" fill="#246418"/>
<text class="lt" transform="translate(532.9 249.45) scale(0.92 1)">G<tspan class="ls" dy="1.3">1</tspan></text>
<rect class="lg" x="523.65" y="253.3" width="5.4" height="4.7" fill="#2300ff"/>
<text class="lt" transform="translate(532.9 257.75) scale(0.92 1)">G<tspan class="ls" dy="1.3">0</tspan></text>
<path class="sl" d="M546 255H589.7"/>
<text class="st" x="567.3" y="253.85" text-anchor="middle" style="fill:#ff2a2a;stroke:#ff2a2a">*</text>
<path class="sl" d="M536.2 265.3H591.8"/>
<text class="st" x="563.8" y="264.25" text-anchor="middle" style="fill:#2e8b1e;stroke:#2e8b1e">*</text>
<path class="sl" d="M536.8 272.4H562.7"/>
<text class="st" x="547.75 551.25" y="271.15" text-anchor="middle" style="fill:#ff2a2a;stroke:#ff2a2a">**</text>
<path class="sl" d="M536.8 281.2H562.7"/>
<text class="st" x="547.75 551.25" y="279.85" text-anchor="middle" style="fill:#2e8b1e;stroke:#2e8b1e">**</text>
<path class="sl" d="M536.8 290H563.6"/>
<text class="st" x="548.25 551.75" y="288.85" text-anchor="middle" style="fill:#0000ff;stroke:#0000ff">**</text>
</g>
</svg>
</body>
</html>
